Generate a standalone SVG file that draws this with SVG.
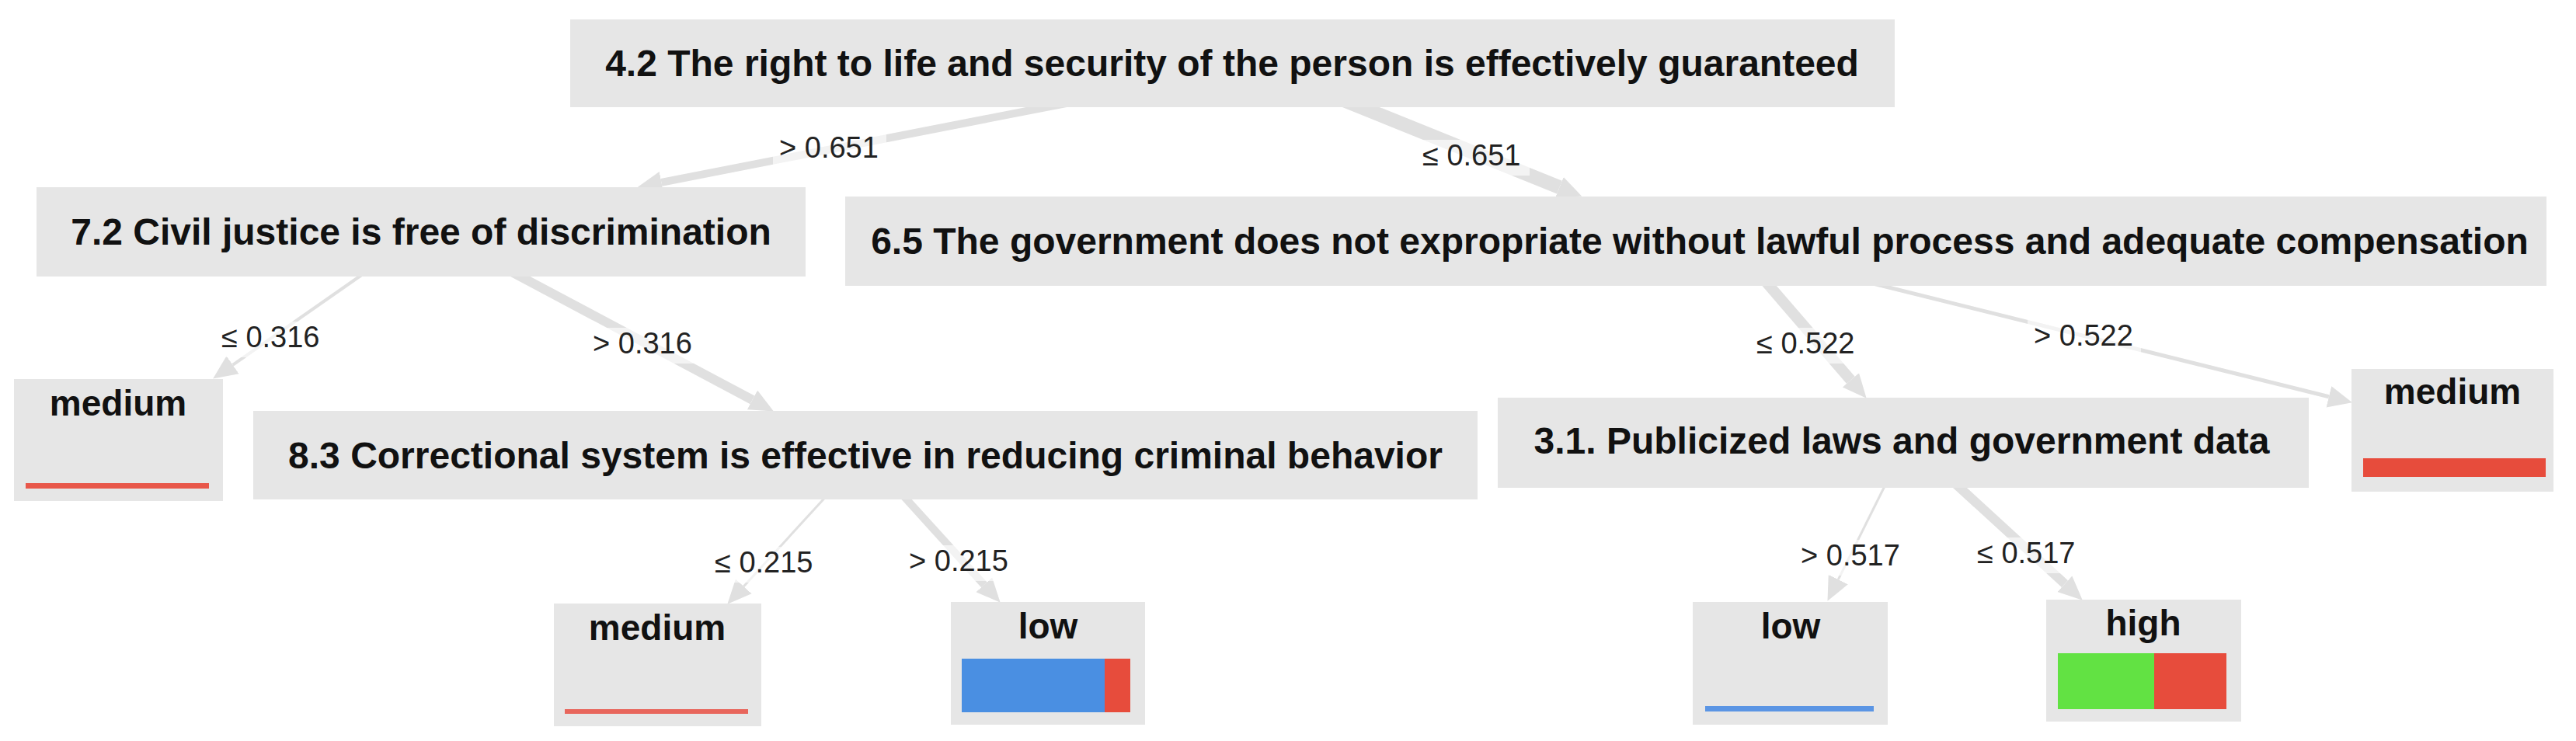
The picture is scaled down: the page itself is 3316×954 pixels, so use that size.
<svg xmlns="http://www.w3.org/2000/svg" width="3316" height="954" viewBox="0 0 3316 954">
<style>
.box{fill:#e6e6e6}
.nt{font-family:"Liberation Sans",Arial,sans-serif;font-weight:bold;font-size:48px;fill:#111;text-anchor:middle}
.lt{font-family:"Liberation Sans",Arial,sans-serif;font-weight:bold;font-size:46px;fill:#111;text-anchor:middle}
.el{font-family:"Liberation Sans",Arial,sans-serif;font-size:38px;fill:#222}
.edge{fill:none;stroke:#e0e0e0;stroke-linecap:butt}
.lbg{fill:#fff;fill-opacity:0.6}
</style>
<defs>
<marker id="ah" markerUnits="userSpaceOnUse" markerWidth="32" markerHeight="32" refX="0" refY="16" orient="auto" viewBox="0 0 32 32">
<path d="M0,2 L31,16 L0,30 z" fill="#e0e0e0"/>
</marker>
</defs>
<rect width="3316" height="954" fill="#fff"/>
<g id="connectors">
<path class="edge" d="M1398,128 L851.4,234.8" stroke-width="10" marker-end="url(#ah)"/>
<path class="edge" d="M1727,128 L2007.5,241.1" stroke-width="18" marker-end="url(#ah)"/>
<path class="edge" d="M477,346 L299.6,469.8" stroke-width="4" marker-end="url(#ah)"/>
<path class="edge" d="M651,346 L968.5,514.9" stroke-width="12" marker-end="url(#ah)"/>
<path class="edge" d="M1069,633 L957.3,754.9" stroke-width="3" marker-end="url(#ah)"/>
<path class="edge" d="M1158,633 L1266.8,752.8" stroke-width="10" marker-end="url(#ah)"/>
<path class="edge" d="M2269,358 L2382.4,489.3" stroke-width="14" marker-end="url(#ah)"/>
<path class="edge" d="M2383,358 L2997.9,510.8" stroke-width="5" marker-end="url(#ah)"/>
<path class="edge" d="M2430,618 L2366.3,746.1" stroke-width="3" marker-end="url(#ah)"/>
<path class="edge" d="M2512,618 L2657.9,751.7" stroke-width="12" marker-end="url(#ah)"/>
<rect class="lbg" x="995" y="170" width="146" height="46"/>
<text class="el" x="1003" y="203">&gt; 0.651</text>
<rect class="lbg" x="1823" y="180" width="146" height="46"/>
<text class="el" x="1831" y="213">≤ 0.651</text>
<rect class="lbg" x="277" y="414" width="146" height="46"/>
<text class="el" x="285" y="447">≤ 0.316</text>
<rect class="lbg" x="755" y="422" width="146" height="46"/>
<text class="el" x="763" y="455">&gt; 0.316</text>
<rect class="lbg" x="2253" y="422" width="146" height="46"/>
<text class="el" x="2261" y="455">≤ 0.522</text>
<rect class="lbg" x="2610" y="412" width="146" height="46"/>
<text class="el" x="2618" y="445">&gt; 0.522</text>
<rect class="lbg" x="912" y="704" width="146" height="46"/>
<text class="el" x="920" y="737">≤ 0.215</text>
<rect class="lbg" x="1162" y="702" width="146" height="46"/>
<text class="el" x="1170" y="735">&gt; 0.215</text>
<rect class="lbg" x="2310" y="695" width="146" height="46"/>
<text class="el" x="2318" y="728">&gt; 0.517</text>
<rect class="lbg" x="2537" y="692" width="146" height="46"/>
<text class="el" x="2545" y="725">≤ 0.517</text>
</g>
<g id="n-root">
<rect class="box" x="734" y="25" width="1705" height="113"/>
<text class="nt" x="1586" y="98">4.2 The right to life and security of the person is effectively guaranteed</text>
</g>
<g id="n-72">
<rect class="box" x="47" y="241" width="990" height="115"/>
<text class="nt" x="542" y="315">7.2 Civil justice is free of discrimination</text>
</g>
<g id="n-65">
<rect class="box" x="1088" y="253" width="2190" height="115"/>
<text class="nt" x="2188" y="327">6.5 The government does not expropriate without lawful process and adequate compensation</text>
</g>
<g id="n-83">
<rect class="box" x="326" y="529" width="1576" height="114"/>
<text class="nt" x="1114" y="603">8.3 Correctional system is effective in reducing criminal behavior</text>
</g>
<g id="n-31">
<rect class="box" x="1928" y="512" width="1044" height="116"/>
<text class="nt" x="2448" y="584">3.1. Publicized laws and government data</text>
</g>
<g id="leaf-medium-1">
<rect class="box" x="18" y="488" width="269" height="157"/>
<text class="lt" x="152" y="535">medium</text>
<rect x="33" y="622" width="236" height="7" fill="#e8574a"/>
</g>
<g id="leaf-medium-2">
<rect class="box" x="713" y="777" width="267" height="158"/>
<text class="lt" x="846" y="824">medium</text>
<rect x="727" y="913" width="236" height="6" fill="#e8665c"/>
</g>
<g id="leaf-low-1">
<rect class="box" x="1224" y="775" width="250" height="158"/>
<text class="lt" x="1349" y="822">low</text>
<rect x="1238" y="848" width="184" height="69" fill="#4a8fe2"/>
<rect x="1422" y="848" width="33" height="69" fill="#e74c3c"/>
</g>
<g id="leaf-low-2">
<rect class="box" x="2179" y="775" width="251" height="158"/>
<text class="lt" x="2305" y="822">low</text>
<rect x="2195" y="909" width="217" height="7" fill="#5b95e4"/>
</g>
<g id="leaf-high">
<rect class="box" x="2634" y="772" width="251" height="157"/>
<text class="lt" x="2759" y="818">high</text>
<rect x="2649" y="841" width="124" height="72" fill="#62e243"/>
<rect x="2773" y="841" width="93" height="72" fill="#e74c3c"/>
</g>
<g id="leaf-medium-3">
<rect class="box" x="3027" y="475" width="260" height="158"/>
<text class="lt" x="3157" y="520">medium</text>
<rect x="3042" y="590" width="235" height="24" fill="#e74c3c"/>
</g>
</svg>
